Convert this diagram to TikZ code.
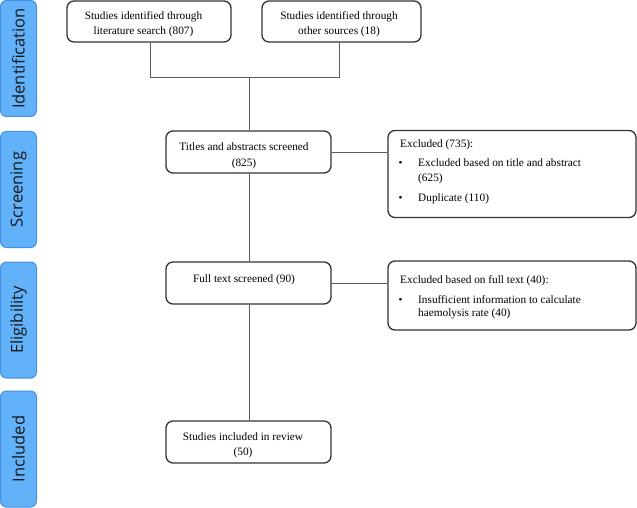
\documentclass[tikz,border=0pt]{standalone}
\usepackage{fontspec}
\setmainfont{Liberation Serif}
\newfontfamily\barfont{Open Sans}
\begin{document}
\begin{tikzpicture}[x=1pt,y=-1pt,
  box/.style={draw=black!80, line width=1.3pt, rounded corners=7pt, fill=white, inner sep=0pt},
  bar/.style={draw={rgb,255:red,70;green,145;blue,225}, fill={rgb,255:red,98;green,178;blue,250}, line width=1pt, rounded corners=6pt, inner sep=0pt, minimum width=36pt, minimum height=116pt},
  bartxt/.style={font=\barfont\fontsize{16.5}{18}\selectfont, text=black!90, rotate=90, inner sep=0pt},
  txt/.style={font=\fontsize{11.3}{14}\selectfont, inner sep=0pt, anchor=base},
  txtl/.style={font=\fontsize{11.3}{14}\selectfont, inner sep=0pt, anchor=base west},
  conn/.style={draw=black!65, line width=0.9pt}]
\useasboundingbox (0,0) rectangle (637,508);
% side bars
\node[bar] (sb1) at (18.5,58.5) {};
\node[bartxt] (sl1) at (sb1.center) {Identification};
\node[bar] (sb2) at (18.5,189.5) {};
\node[bartxt] (sl2) at (sb2.center) {Screening};
\node[bar] (sb3) at (18.5,320) {};
\node[bartxt] (sl3) at (sb3.center) {Eligibility};
\node[bar] (sb4) at (18.5,449) {};
\node[bartxt] (sl4) at (sb4.center) {Included};
% boxes
\node[box, minimum width=164pt, minimum height=41pt] (b1) at (149,21.5) {};
\node[box, minimum width=159pt, minimum height=41pt] (b2) at (341.5,21.5) {};
\node[box, minimum width=165pt, minimum height=42pt] (b3) at (248.5,152) {};
\node[box, minimum width=165pt, minimum height=42pt] (b4) at (248.5,283) {};
\node[box, minimum width=165pt, minimum height=42pt] (b5) at (248.5,442) {};
\node[box, minimum width=248pt, minimum height=87pt] (e1) at (512,174) {};
\node[box, minimum width=248pt, minimum height=69pt] (e2) at (512,295.5) {};
% texts
\node[txt] (t1a) at (143.5,20) {Studies identified through};
\node[txt] (t1b) at (143.5,34.5) {literature search (807)};
\node[txt] (t2a) at (339,20) {Studies identified through};
\node[txt] (t2b) at (339,34.5) {other sources (18)};
\node[txt] (t3a) at (244,150.5) {Titles and abstracts screened};
\node[txt] (t3b) at (244,166) {(825)};
\node[txt] (t4a) at (244,282) {Full text screened (90)};
\node[txt] (t5a) at (243,440.5) {Studies included in review};
\node[txt] (t5b) at (243,455.5) {(50)};
\node[txtl] (x1h) at (400,147) {Excluded (735):};
\node[txtl] (x1p) at (398.5,167) {\textbullet};
\node[txtl] (x1a) at (418,167) {Excluded based on title and abstract};
\node[txtl] (x1b) at (418,181) {(625)};
\node[txtl] (x1q) at (398.5,201.5) {\textbullet};
\node[txtl] (x1c) at (418,201.5) {Duplicate (110)};
\node[txtl] (x2h) at (400,283) {Excluded based on full text (40):};
\node[txtl] (x2p) at (398.5,303) {\textbullet};
\node[txtl] (x2a) at (418,303) {Insufficient information to calculate};
\node[txtl] (x2b) at (418,316.5) {haemolysis rate (40)};
% connectors
\coordinate (j1) at (150,77);
\coordinate (j2) at (339,77);
\coordinate (jm) at (249,77);
\draw[conn] (b1.south -| j1) -- (j1) -- (j2) -- (b2.south -| j2);
\draw[conn] (jm) -- (b3.north -| jm);
\draw[conn] (b3.south -| jm) -- (b4.north -| jm);
\draw[conn] (b4.south -| jm) -- (b5.north -| jm);
\draw[conn] (b3.east) -- (e1.west |- b3.east);
\draw[conn] (b4.east) -- (e2.west |- b4.east);
\end{tikzpicture}
\end{document}
